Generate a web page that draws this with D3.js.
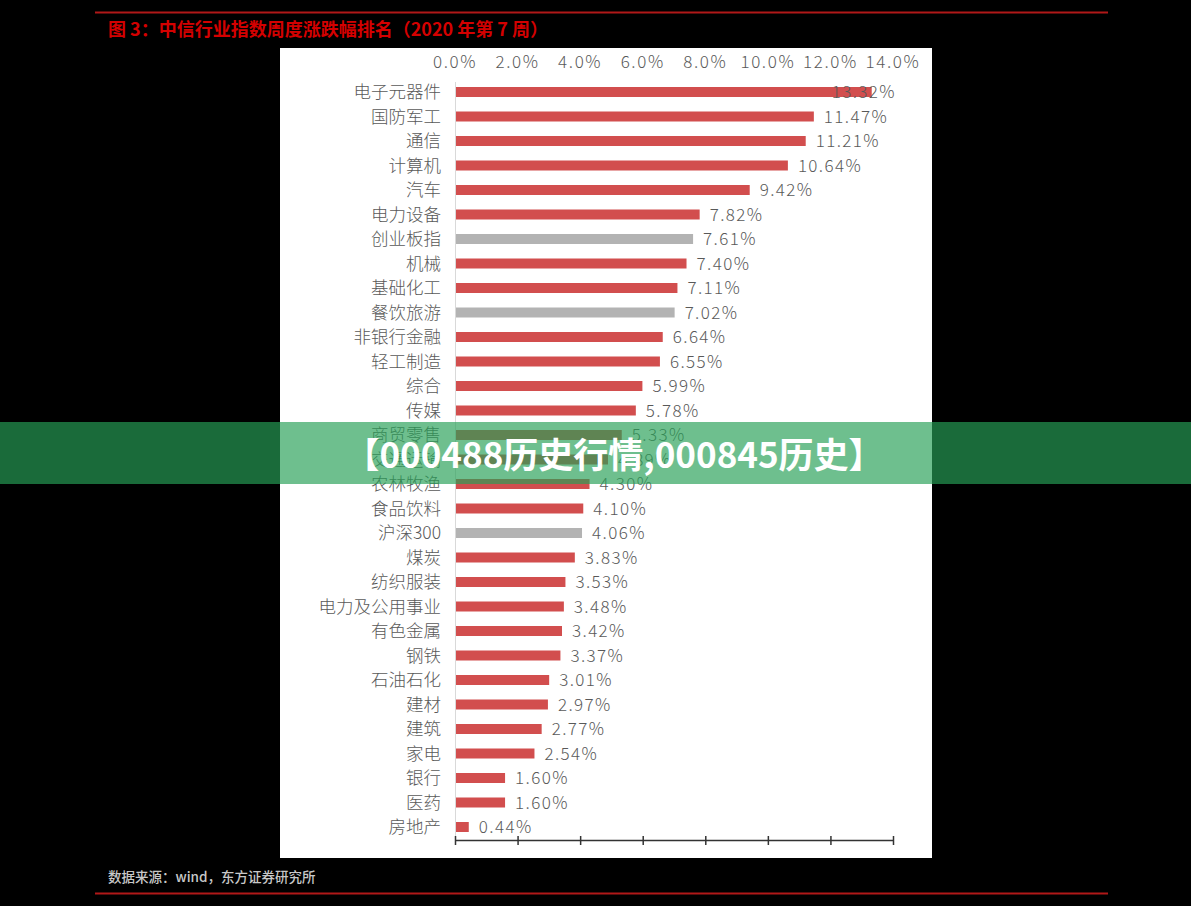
<!DOCTYPE html>
<html><head><meta charset="utf-8">
<script src="https://cdn.jsdelivr.net/npm/d3@7"></script>
<style>
html,body{margin:0;padding:0;background:#000;}
svg{display:block;}
</style></head>
<body>
<svg id="c" width="1191" height="906"></svg>
<script>
const categories = ["电子元器件","国防军工","通信","计算机","汽车","电力设备","创业板指","机械","基础化工","餐饮旅游","非银行金融","轻工制造","综合","传媒","商贸零售","交通运输","农林牧渔","食品饮料","沪深300","煤炭","纺织服装","电力及公用事业","有色金属","钢铁","石油石化","建材","建筑","家电","银行","医药","房地产"];
const values = [13.32,11.47,11.21,10.64,9.42,7.82,7.61,7.40,7.11,7.02,6.64,6.55,5.99,5.78,5.33,4.89,4.30,4.10,4.06,3.83,3.53,3.48,3.42,3.37,3.01,2.97,2.77,2.54,1.60,1.60,0.44];
const benchmarks = ["创业板指","餐饮旅游","沪深300"];
const tickValues = [0,2,4,6,8,10,12,14];
const title = "图 3：中信行业指数周度涨跌幅排名（2020 年第 7 周）";
const source = "数据来源：wind，东方证券研究所";
const banner = "【000488历史行情,000845历史】";

const svg = d3.select("#c");
const FONT = "'Noto Sans CJK SC','Noto Sans',sans-serif";

svg.append("rect").attr("x",0).attr("y",0).attr("width",1191).attr("height",906).attr("fill","#000");
// top / bottom rules
svg.append("line").attr("x1",95).attr("x2",1108).attr("y1",12.5).attr("y2",12.5).attr("stroke","#b01818").attr("stroke-width",2);
svg.append("line").attr("x1",95).attr("x2",1108).attr("y1",893.5).attr("y2",893.5).attr("stroke","#b01818").attr("stroke-width",2);
svg.append("text").attr("x",108).attr("y",36).attr("fill","#d40000").attr("font-family",FONT).attr("font-weight",700).attr("font-size",18).text(title);
svg.append("text").attr("x",108).attr("y",882).attr("fill","#c8c8c8").attr("font-family",FONT).attr("font-weight",500).attr("font-size",13.5).text(source);

// panel
svg.append("rect").attr("x",280).attr("y",48).attr("width",652).attr("height",810).attr("fill","#fff");

const x = d3.scaleLinear().domain([0,14]).range([455,893]);
const y = d3.scaleBand().domain(categories).range([79.75,839.25]).paddingInner(0.6).paddingOuter(0.3);

const g = svg.append("g");
// top tick labels
g.selectAll("text.tick").data(tickValues).join("text")
  .attr("class","tick").attr("x",d=>x(d)).attr("y",68).attr("text-anchor","middle")
  .attr("fill","#595959").attr("font-family",FONT).attr("font-weight",300).attr("font-size",17)
  .attr("letter-spacing",1.6)
  .text(d=>d.toFixed(1)+"%");

// vertical axis line
g.append("line").attr("x1",455.5).attr("x2",455.5).attr("y1",82).attr("y2",840).attr("stroke","#d9d9d9").attr("stroke-width",1);

// bars
g.selectAll("rect.bar").data(categories).join("rect")
  .attr("class","bar")
  .attr("x",x(0)+1).attr("y",d=>y(d)+y.bandwidth()/2-5)
  .attr("width",(d,i)=>x(values[i])-x(0)-1).attr("height",10)
  .attr("fill",d=>benchmarks.includes(d)?"#b3b3b3":"#d24e4e");

// category labels
g.selectAll("text.cat").data(categories).join("text")
  .attr("class","cat").attr("x",441).attr("y",d=>y(d)+y.bandwidth()/2).attr("dy","0.36em")
  .attr("text-anchor","end").attr("fill","#595959").attr("font-family",FONT).attr("font-weight",300).attr("font-size",17.5)
  .text(d=>d);

// value labels
g.selectAll("text.val").data(categories).join("text")
  .attr("class","val")
  .attr("y",d=>y(d)+y.bandwidth()/2).attr("dy","0.36em")
  .attr("fill","#595959").attr("font-family",FONT).attr("font-weight",300).attr("font-size",17)
  .attr("letter-spacing",1.4)
  .text((d,i)=>values[i].toFixed(2)+"%")
  .each(function(d,i){
    const w = this.getComputedTextLength();
    let xx = x(values[i])+10;
    if (xx + w > 896) xx = 896 - w;
    d3.select(this).attr("x",xx);
  });

// bottom axis
const axis = d3.axisBottom(x).tickValues(tickValues).tickFormat("").tickSize(4).tickSizeOuter(0);
const ax = g.append("g").attr("transform","translate(0,840)").call(axis);
ax.select(".domain").attr("stroke","#333").attr("stroke-width",1.5);
ax.selectAll(".tick line").attr("stroke","#333").attr("stroke-width",1.5).attr("y1",-4).attr("y2",5);

// watermark banner
svg.append("rect").attr("x",0).attr("y",422).attr("width",1191).attr("height",62).attr("fill","rgb(39,160,87)").attr("fill-opacity",0.67);
svg.append("text").attr("x",614).attr("y",455).attr("dy","0.36em").attr("text-anchor","middle")
  .attr("fill","#fff").attr("font-family",FONT).attr("font-weight",700).attr("font-size",35).text(banner);
</script>
</body></html>
